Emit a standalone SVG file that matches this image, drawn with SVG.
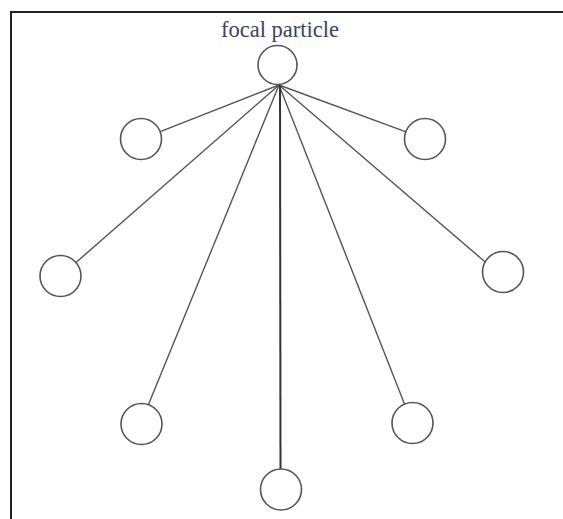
<svg xmlns="http://www.w3.org/2000/svg" width="563" height="519" viewBox="0 0 563 519">
<style>
.node{fill:#fff;stroke:#555;stroke-width:1.6}
.edge{stroke:#555;stroke-width:1.4;fill:none}
.frame{stroke:#222;stroke-width:2;fill:none}
.lbl{font-family:"Liberation Serif","Times New Roman",serif;font-size:22.5px;fill:#3a4560}
</style>
<rect width="563" height="519" fill="#fff"/>
<path class="frame" d="M11,519 V12 H563"/>
<g id="connectors">
<line class="edge" x1="279" y1="85" x2="160.2" y2="131.6"/>
<line class="edge" x1="279" y1="85" x2="406" y2="131.8"/>
<line class="edge" x1="279" y1="85" x2="76" y2="262.5"/>
<line class="edge" x1="279" y1="85" x2="487.3" y2="263.8"/>
<line class="edge" x1="279" y1="85" x2="148.5" y2="404.5"/>
<line class="edge" x1="279" y1="85" x2="404.5" y2="404"/>
<line class="edge" x1="280" y1="85" x2="280.5" y2="469" style="stroke:#333;stroke-width:2"/>
</g>
<g id="focal"><circle class="node" cx="277.5" cy="65" r="19.5"/><text class="lbl" x="280" y="37" text-anchor="middle">focal particle</text></g>
<g id="n1"><circle class="node" cx="141" cy="139" r="20.5"/></g>
<g id="n2"><circle class="node" cx="425" cy="139" r="20.5"/></g>
<g id="n3"><circle class="node" cx="60.5" cy="276" r="20.5"/></g>
<g id="n4"><circle class="node" cx="503" cy="272" r="20.5"/></g>
<g id="n5"><circle class="node" cx="141.5" cy="424" r="20.5"/></g>
<g id="n6"><circle class="node" cx="412.5" cy="423" r="20.5"/></g>
<g id="n7"><circle class="node" cx="281" cy="489.5" r="20.5"/></g>
</svg>
